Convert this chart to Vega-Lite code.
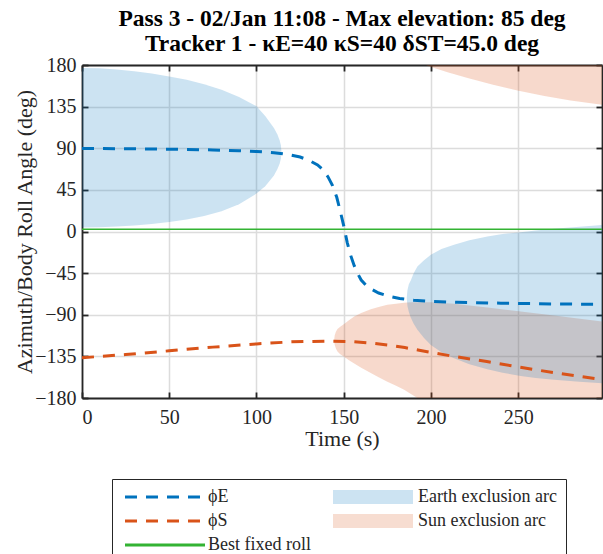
{
  "$schema": "https://vega.github.io/schema/vega-lite/v6.json",
  "width": 520,
  "height": 333,
  "autosize": {"type": "none"},
  "padding": {"left": 82, "top": 65, "right": 1, "bottom": 156},
  "background": "white",
  "title": {
    "text": ["Pass 3 - 02/Jan 11:08 - Max elevation: 85 deg", "Tracker 1 - κE=40 κS=40 δST=45.0 deg"],
    "font": "Liberation Serif",
    "fontSize": 23.5,
    "fontWeight": "bold",
    "color": "#000000",
    "lineHeight": 25,
    "offset": 0,
    "anchor": "middle",
    "frame": "group"
  },
  "config": {
    "view": {"stroke": null},
    "axis": {
      "labelFont": "Liberation Serif",
      "labelFontSize": 20,
      "labelColor": "#262626",
      "titleFont": "Liberation Serif",
      "titleFontSize": 22,
      "titleFontWeight": "normal",
      "titleColor": "#262626",
      "domainColor": "#262626",
      "domainWidth": 1.8,
      "tickColor": "#262626",
      "tickWidth": 1.8,
      "tickSize": -6,
      "gridColor": "#dcdcdc",
      "gridWidth": 1.5
    }
  },
  "datasets": {
    "lines": [
      {"s": "ϕE", "t": 0, "v": 89.7}, {"s": "ϕE", "t": 25, "v": 89.5}, {"s": "ϕE", "t": 50, "v": 89}, {"s": "ϕE", "t": 75, "v": 88.2},
      {"s": "ϕE", "t": 90, "v": 87.3}, {"s": "ϕE", "t": 100, "v": 86.5}, {"s": "ϕE", "t": 110, "v": 85.2}, {"s": "ϕE", "t": 115, "v": 84},
      {"s": "ϕE", "t": 120, "v": 82.5}, {"s": "ϕE", "t": 125, "v": 80.5}, {"s": "ϕE", "t": 130, "v": 77}, {"s": "ϕE", "t": 135, "v": 72},
      {"s": "ϕE", "t": 138, "v": 67}, {"s": "ϕE", "t": 141, "v": 59}, {"s": "ϕE", "t": 143.5, "v": 50}, {"s": "ϕE", "t": 146, "v": 37},
      {"s": "ϕE", "t": 148, "v": 22}, {"s": "ϕE", "t": 150, "v": 6}, {"s": "ϕE", "t": 152, "v": -12}, {"s": "ϕE", "t": 154, "v": -26},
      {"s": "ϕE", "t": 156, "v": -37}, {"s": "ϕE", "t": 158, "v": -45.5}, {"s": "ϕE", "t": 160, "v": -52.5}, {"s": "ϕE", "t": 164, "v": -60.5},
      {"s": "ϕE", "t": 170, "v": -66.5}, {"s": "ϕE", "t": 176, "v": -70}, {"s": "ϕE", "t": 182, "v": -72.5}, {"s": "ϕE", "t": 190, "v": -74.2},
      {"s": "ϕE", "t": 200, "v": -75.5}, {"s": "ϕE", "t": 215, "v": -76.6}, {"s": "ϕE", "t": 240, "v": -77.5}, {"s": "ϕE", "t": 270, "v": -78.3},
      {"s": "ϕE", "t": 298, "v": -78.8},
      {"s": "ϕS", "t": 0, "v": -136.5}, {"s": "ϕS", "t": 25, "v": -133}, {"s": "ϕS", "t": 50, "v": -129}, {"s": "ϕS", "t": 75, "v": -125},
      {"s": "ϕS", "t": 100, "v": -121.5}, {"s": "ϕS", "t": 120, "v": -119.3}, {"s": "ϕS", "t": 140, "v": -118.5}, {"s": "ϕS", "t": 155, "v": -119},
      {"s": "ϕS", "t": 165, "v": -120.5}, {"s": "ϕS", "t": 175, "v": -122.6}, {"s": "ϕS", "t": 185, "v": -125.5}, {"s": "ϕS", "t": 194, "v": -128.7},
      {"s": "ϕS", "t": 213, "v": -135}, {"s": "ϕS", "t": 232, "v": -140.6}, {"s": "ϕS", "t": 251, "v": -146.7}, {"s": "ϕS", "t": 270, "v": -152.5},
      {"s": "ϕS", "t": 298, "v": -160},
      {"s": "Best fixed roll", "t": 0, "v": 2.5}, {"s": "Best fixed roll", "t": 298, "v": 2.5}
    ],
    "areas": [
      {"s": "Earth exclusion arc", "seg": "e1", "t": 0, "lo": 4.3, "hi": 176.8},
      {"s": "Earth exclusion arc", "seg": "e1", "t": 10, "lo": 4.6, "hi": 176.4},
      {"s": "Earth exclusion arc", "seg": "e1", "t": 20, "lo": 5.4, "hi": 175.2},
      {"s": "Earth exclusion arc", "seg": "e1", "t": 30, "lo": 6.6, "hi": 173.3},
      {"s": "Earth exclusion arc", "seg": "e1", "t": 40, "lo": 8.2, "hi": 170.8},
      {"s": "Earth exclusion arc", "seg": "e1", "t": 50, "lo": 10.3, "hi": 167.7},
      {"s": "Earth exclusion arc", "seg": "e1", "t": 60, "lo": 13, "hi": 164},
      {"s": "Earth exclusion arc", "seg": "e1", "t": 70, "lo": 16.8, "hi": 159.3},
      {"s": "Earth exclusion arc", "seg": "e1", "t": 80, "lo": 22, "hi": 153.3},
      {"s": "Earth exclusion arc", "seg": "e1", "t": 90, "lo": 29.5, "hi": 145.5},
      {"s": "Earth exclusion arc", "seg": "e1", "t": 100, "lo": 41, "hi": 135.5},
      {"s": "Earth exclusion arc", "seg": "e1", "t": 105, "lo": 49, "hi": 125},
      {"s": "Earth exclusion arc", "seg": "e1", "t": 110, "lo": 60.5, "hi": 112},
      {"s": "Earth exclusion arc", "seg": "e1", "t": 112, "lo": 67.5, "hi": 105},
      {"s": "Earth exclusion arc", "seg": "e1", "t": 113.3, "lo": 73.5, "hi": 98.5},
      {"s": "Earth exclusion arc", "seg": "e1", "t": 114, "lo": 79, "hi": 93},
      {"s": "Earth exclusion arc", "seg": "e1", "t": 114.3, "lo": 86, "hi": 86},
      {"s": "Earth exclusion arc", "seg": "e2", "t": 186.1, "lo": -72, "hi": -72},
      {"s": "Earth exclusion arc", "seg": "e2", "t": 186.5, "lo": -80.5, "hi": -63.5},
      {"s": "Earth exclusion arc", "seg": "e2", "t": 187.3, "lo": -87, "hi": -57},
      {"s": "Earth exclusion arc", "seg": "e2", "t": 188.4, "lo": -93, "hi": -53},
      {"s": "Earth exclusion arc", "seg": "e2", "t": 190, "lo": -99.5, "hi": -45.5},
      {"s": "Earth exclusion arc", "seg": "e2", "t": 192.2, "lo": -106.3, "hi": -37.9},
      {"s": "Earth exclusion arc", "seg": "e2", "t": 196, "lo": -115, "hi": -31},
      {"s": "Earth exclusion arc", "seg": "e2", "t": 199.9, "lo": -122.6, "hi": -25.2},
      {"s": "Earth exclusion arc", "seg": "e2", "t": 206, "lo": -130.5, "hi": -19},
      {"s": "Earth exclusion arc", "seg": "e2", "t": 213.2, "lo": -137, "hi": -14.4},
      {"s": "Earth exclusion arc", "seg": "e2", "t": 222, "lo": -143.5, "hi": -9.5},
      {"s": "Earth exclusion arc", "seg": "e2", "t": 232.3, "lo": -148.9, "hi": -5.4},
      {"s": "Earth exclusion arc", "seg": "e2", "t": 241, "lo": -152.8, "hi": -2.8},
      {"s": "Earth exclusion arc", "seg": "e2", "t": 251.4, "lo": -156.1, "hi": -0.7},
      {"s": "Earth exclusion arc", "seg": "e2", "t": 260, "lo": -158.5, "hi": 1.2},
      {"s": "Earth exclusion arc", "seg": "e2", "t": 270.5, "lo": -160.4, "hi": 2.9},
      {"s": "Earth exclusion arc", "seg": "e2", "t": 285, "lo": -162.3, "hi": 5.2},
      {"s": "Earth exclusion arc", "seg": "e2", "t": 298, "lo": -164, "hi": 7},
      {"s": "Sun exclusion arc", "seg": "s1", "t": 144.5, "lo": -117.5, "hi": -117.5},
      {"s": "Sun exclusion arc", "seg": "s1", "t": 144.8, "lo": -122.5, "hi": -112.5},
      {"s": "Sun exclusion arc", "seg": "s1", "t": 145.5, "lo": -126.5, "hi": -108.5},
      {"s": "Sun exclusion arc", "seg": "s1", "t": 146.4, "lo": -129.8, "hi": -105.5},
      {"s": "Sun exclusion arc", "seg": "s1", "t": 148, "lo": -132.8, "hi": -103},
      {"s": "Sun exclusion arc", "seg": "s1", "t": 150.2, "lo": -135.5, "hi": -100},
      {"s": "Sun exclusion arc", "seg": "s1", "t": 153, "lo": -139.2, "hi": -96},
      {"s": "Sun exclusion arc", "seg": "s1", "t": 156, "lo": -142.8, "hi": -92},
      {"s": "Sun exclusion arc", "seg": "s1", "t": 160, "lo": -147.2, "hi": -88},
      {"s": "Sun exclusion arc", "seg": "s1", "t": 165.5, "lo": -153, "hi": -84},
      {"s": "Sun exclusion arc", "seg": "s1", "t": 170, "lo": -157.5, "hi": -81.5},
      {"s": "Sun exclusion arc", "seg": "s1", "t": 175, "lo": -162.3, "hi": -79.3},
      {"s": "Sun exclusion arc", "seg": "s1", "t": 180, "lo": -166.8, "hi": -78},
      {"s": "Sun exclusion arc", "seg": "s1", "t": 184.6, "lo": -171, "hi": -77},
      {"s": "Sun exclusion arc", "seg": "s1", "t": 188.5, "lo": -175.8, "hi": -76.6},
      {"s": "Sun exclusion arc", "seg": "s1", "t": 192.2, "lo": -180, "hi": -76.4},
      {"s": "Sun exclusion arc", "seg": "s1", "t": 200, "lo": -180, "hi": -76.5},
      {"s": "Sun exclusion arc", "seg": "s1", "t": 213, "lo": -180, "hi": -78.2},
      {"s": "Sun exclusion arc", "seg": "s1", "t": 232.3, "lo": -180, "hi": -82.2},
      {"s": "Sun exclusion arc", "seg": "s1", "t": 251.4, "lo": -180, "hi": -86.5},
      {"s": "Sun exclusion arc", "seg": "s1", "t": 270.5, "lo": -180, "hi": -90.8},
      {"s": "Sun exclusion arc", "seg": "s1", "t": 298, "lo": -180, "hi": -97.3},
      {"s": "Sun exclusion arc", "seg": "s2", "t": 197, "lo": 180, "hi": 180},
      {"s": "Sun exclusion arc", "seg": "s2", "t": 200, "lo": 177.8, "hi": 180},
      {"s": "Sun exclusion arc", "seg": "s2", "t": 210, "lo": 171.8, "hi": 180},
      {"s": "Sun exclusion arc", "seg": "s2", "t": 221, "lo": 166, "hi": 180},
      {"s": "Sun exclusion arc", "seg": "s2", "t": 235, "lo": 159, "hi": 180},
      {"s": "Sun exclusion arc", "seg": "s2", "t": 249.5, "lo": 152.5, "hi": 180},
      {"s": "Sun exclusion arc", "seg": "s2", "t": 265, "lo": 146.5, "hi": 180},
      {"s": "Sun exclusion arc", "seg": "s2", "t": 280, "lo": 141.5, "hi": 180},
      {"s": "Sun exclusion arc", "seg": "s2", "t": 298, "lo": 137, "hi": 180}
    ]
  },
  "resolve": {"axis": {"x": "independent", "y": "independent"}},
  "layer": [
    {
      "data": {"name": "areas"},
      "transform": [{"filter": "datum.s === 'Sun exclusion arc'"}],
      "mark": {"type": "area", "opacity": 0.22, "interpolate": "linear"},
      "encoding": {
        "x": {"field": "t", "type": "quantitative", "scale": {"domain": [0, 298], "nice": false, "zero": false},
              "axis": {"title": "Time (s)", "values": [0, 50, 100, 150, 200, 250], "grid": true, "labelPadding": 15, "titlePadding": 1, "orient": "bottom"}},
        "y": {"field": "lo", "type": "quantitative", "scale": {"domain": [-180, 180], "nice": false},
              "axis": {"title": "Azimuth/Body Roll Angle (deg)", "values": [-180, -135, -90, -45, 0, 45, 90, 135, 180], "grid": true, "labelPadding": 12, "titlePadding": -2, "orient": "left"}},
        "y2": {"field": "hi"},
        "detail": {"field": "seg"},
        "fill": {
          "field": "s",
          "type": "nominal",
          "scale": {"domain": ["Earth exclusion arc", "Sun exclusion arc"], "range": ["#0072BD", "#D95319"]},
          "legend": {
            "orient": "none",
            "legendX": 247,
            "legendY": 423,
            "title": null,
            "labelExpr": "' '",
            "labelFont": "Liberation Serif",
            "labelFontSize": 18,
            "padding": 0,
            "rowPadding": 6,
            "symbolType": "M-8,-1.4H8V1.4H-8Z",
            "symbolSize": 100,
            "symbolOpacity": 0.2,
            "symbolStrokeWidth": 0,
            "symbolOffset": 35
          }
        }
      }
    },
    {
      "data": {"name": "areas"},
      "transform": [{"filter": "datum.s === 'Earth exclusion arc'"}],
      "mark": {"type": "area", "opacity": 0.2, "interpolate": "linear"},
      "encoding": {
        "x": {"field": "t", "type": "quantitative", "axis": null},
        "y": {"field": "lo", "type": "quantitative", "axis": null},
        "y2": {"field": "hi"},
        "detail": {"field": "seg"},
        "fill": {"field": "s", "type": "nominal"}
      }
    },
    {
      "data": {"name": "lines"},
      "transform": [{"filter": "datum.s !== 'Best fixed roll'"}],
      "mark": {"type": "line", "strokeWidth": 3},
      "encoding": {
        "x": {"field": "t", "type": "quantitative", "axis": null},
        "y": {"field": "v", "type": "quantitative", "axis": null},
        "color": {
          "field": "s",
          "type": "nominal",
          "scale": {
            "domain": ["ϕE", "ϕS", "Best fixed roll", "Earth exclusion arc", "Sun exclusion arc"],
            "range": ["#0072BD", "#D95319", "#33b333", "transparent", "transparent"]
          },
          "legend": {
            "orient": "none",
            "legendX": 30,
            "legendY": 414,
            "columns": 2,
            "title": null,
            "labelFont": "Liberation Serif",
            "labelFontSize": 18,
            "labelColor": "#262626",
            "labelLimit": 300,
            "strokeColor": "#262626",
            "padding": 9,
            "rowPadding": 6,
            "columnPadding": 18,
            "symbolType": "M-8,0H8",
            "symbolSize": 100,
            "symbolStrokeWidth": 3,
            "symbolOffset": 35,
            "labelOffset": 34,
            "symbolOpacity": 1
          }
        },
        "strokeDash": {
          "field": "s",
          "type": "nominal",
          "scale": {
            "domain": ["ϕE", "ϕS", "Best fixed roll", "Earth exclusion arc", "Sun exclusion arc"],
            "range": [[12, 9], [12, 9], [1, 0], [1, 0], [1, 0]]
          }
        }
      }
    },
    {
      "data": {"name": "lines"},
      "transform": [{"filter": "datum.s === 'Best fixed roll'"}],
      "mark": {"type": "line", "strokeWidth": 1.5},
      "encoding": {
        "x": {"field": "t", "type": "quantitative",
              "axis": {"orient": "top", "labels": false, "title": null, "grid": false, "values": [0, 50, 100, 150, 200, 250]}},
        "y": {"field": "v", "type": "quantitative",
              "axis": {"orient": "right", "labels": false, "title": null, "grid": false, "values": [-180, -135, -90, -45, 0, 45, 90, 135, 180]}},
        "color": {"field": "s", "type": "nominal"},
        "strokeDash": {"field": "s", "type": "nominal"}
      }
    }
  ]
}
